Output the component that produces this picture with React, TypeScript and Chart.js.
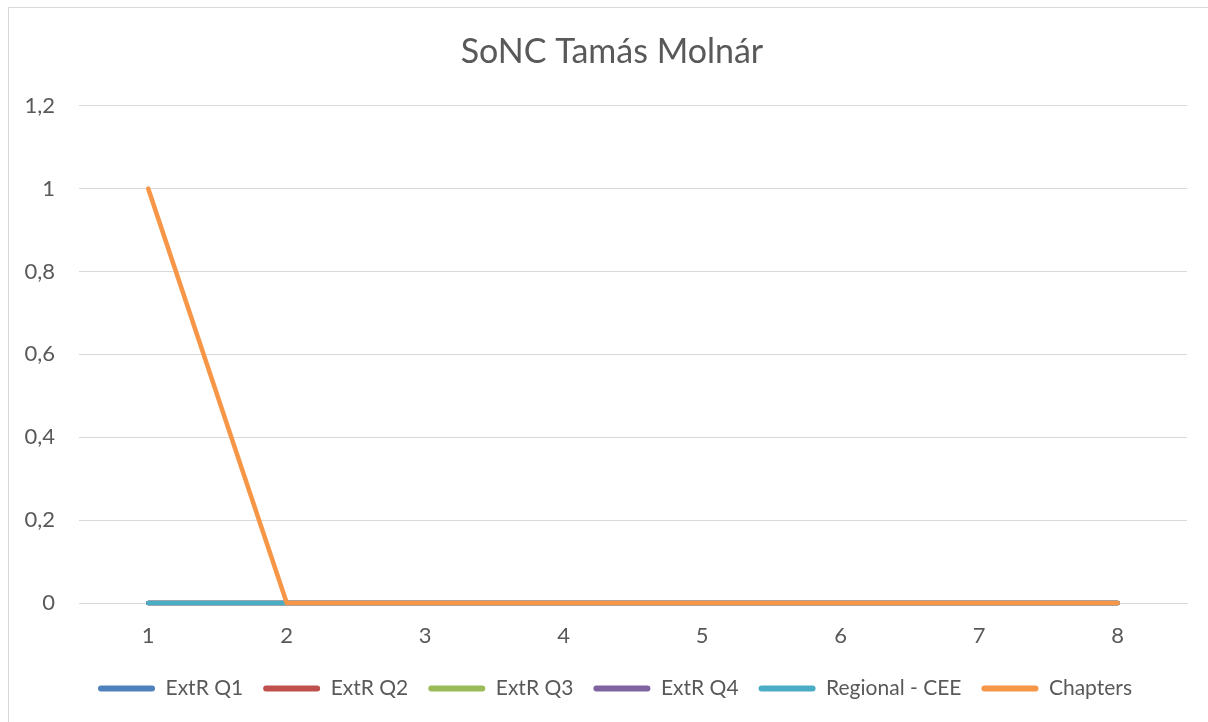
import React, { useEffect, useRef } from "react";
import { Chart, registerables } from "chart.js";

Chart.register(...registerables);

const categories = ["1", "2", "3", "4", "5", "6", "7", "8"];
const extrQ1 = [0, 0, 0, 0, 0, 0, 0, 0];
const extrQ2 = [0, 0, 0, 0, 0, 0, 0, 0];
const extrQ3 = [0, 0, 0, 0, 0, 0, 0, 0];
const extrQ4 = [0, 0, 0, 0, 0, 0, 0, 0];
const regionalCEE = [0, 0, 0, 0, 0, 0, 0, 0];
const chapters = [1, 0, 0, 0, 0, 0, 0, 0];
const seriesNames = ["ExtR Q1", "ExtR Q2", "ExtR Q3", "ExtR Q4", "Regional - CEE", "Chapters"];
const seriesColors = ["#4F81BD", "#C0504D", "#9BBB59", "#8064A2", "#4BACC6", "#F79646"];
const yTickValues = [0, 0.2, 0.4, 0.6, 0.8, 1, 1.2];
const yTickLabels = ["0", "0,2", "0,4", "0,6", "0,8", "1", "1,2"];
const title = "SoNC Tamás Molnár";

const FONT = "Lato, 'Open Sans', sans-serif";
const TEXT = "#595959";

const blockShift = {
  id: "blockShift",
  afterLayout(chart: any) {
    const lg = chart.legend;
    if (lg) {
      lg.left += 17;
      lg.right += 17;
    }
    const tb = chart.titleBlock;
    if (tb) {
      tb.left += 14;
      tb.right += 14;
    }
  },
};

export default function App() {
  const ref = useRef<HTMLCanvasElement | null>(null);
  useEffect(() => {
    if (!ref.current) return;
    const values = [extrQ1, extrQ2, extrQ3, extrQ4, regionalCEE, chapters];
    const n = values.length;
    const chart = new Chart(ref.current, {
      type: "line",
      data: {
        labels: categories,
        datasets: values.map((v, i) => ({
          label: seriesNames[i],
          data: v,
          borderColor: seriesColors[i],
          backgroundColor: seriesColors[i],
          borderWidth: 4.5,
          pointRadius: 0,
          pointHoverRadius: 0,
          borderCapStyle: "round" as const,
          borderJoinStyle: "round" as const,
          tension: 0,
          clip: false as any,
          order: n - 1 - i,
        })),
      },
      plugins: [blockShift],
      options: {
        animation: false,
        responsive: true,
        maintainAspectRatio: false,
        layout: { padding: { left: 0, right: 21, top: 0, bottom: 13 } },
        plugins: {
          tooltip: { enabled: false },
          title: {
            display: true,
            text: title,
            color: TEXT,
            font: { family: FONT, size: 34, weight: "normal" as const },
            padding: { top: 24, bottom: 33 },
          },
          legend: {
            position: "bottom",
            labels: {
              color: TEXT,
              font: { family: FONT, size: 21 },
              boxWidth: 57,
              boxHeight: 6,
              padding: 20,
              useBorderRadius: true,
              borderRadius: 3,
              generateLabels: () =>
                seriesNames.map((name, i) => ({
                  text: name,
                  fillStyle: seriesColors[i],
                  strokeStyle: seriesColors[i],
                  lineWidth: 0,
                  hidden: false,
                  datasetIndex: i,
                  fontColor: TEXT,
                  borderRadius: 3,
                })),
            },
          },
        },
        scales: {
          x: {
            offset: true,
            grid: { display: false, drawTicks: false },
            border: { display: true, color: "#D9D9D9", width: 1 },
            ticks: { color: TEXT, font: { family: FONT, size: 22 }, padding: 20 },
            afterFit: (s: any) => {
              s.height = 55;
            },
          },
          y: {
            min: 0,
            max: 1.2,
            afterBuildTicks: (s: any) => {
              s.ticks = yTickValues.map((v) => ({ value: v }));
            },
            grid: { color: "#D9D9D9", lineWidth: 1, drawTicks: false },
            border: { display: false },
            ticks: {
              color: TEXT,
              font: { family: FONT, size: 22 },
              padding: 24,
              callback: (v: any) => {
                const idx = yTickValues.findIndex((t) => Math.abs(t - Number(v)) < 1e-9);
                return idx >= 0 ? yTickLabels[idx] : "";
              },
            },
            afterFit: (s: any) => {
              s.width = 70;
            },
          },
        },
      },
    });
    return () => chart.destroy();
  }, []);

  return (
    <div
      style={{
        position: "absolute",
        left: 8,
        top: 7,
        width: 1200,
        height: 715,
        boxSizing: "border-box",
        borderLeft: "1px solid #D9D9D9",
        borderTop: "1px solid #D9D9D9",
        background: "#fff",
      }}
    >
      <div style={{ position: "relative", width: 1199, height: 714 }}>
        <canvas ref={ref} />
      </div>
    </div>
  );
}
